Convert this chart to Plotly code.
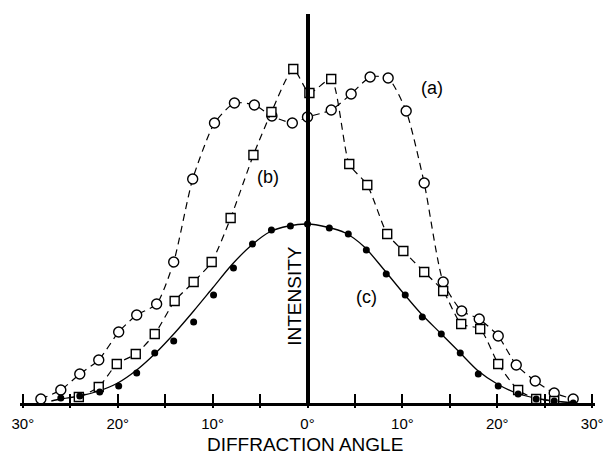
import plotly.graph_objects as go

# ---- data (intensity in arbitrary units, angle in degrees) ----
a_angle = [-28.1, -26.0, -24.0, -22.0, -19.9, -18.0, -15.9, -14.1, -12.1, -9.8, -7.7, -5.6, -3.75, -1.6, 0.0,
           2.5, 4.6, 6.6, 8.5, 10.4, 12.3, 14.3, 16.25, 18.1, 20.1, 22.0, 24.0, 26.0, 28.0]
a_int = [4, 13, 29, 43, 71, 88, 99, 141, 224, 280, 300, 298, 287, 280, 286,
         293, 309, 326, 325, 292, 220, 121, 92, 84, 67, 38, 22, 10, 4]

b_angle = [-24.1, -22.0, -20.1, -18.1, -16.1, -14.0, -12.0, -10.1, -8.1, -5.7, -3.8, -1.5, 0.2,
           2.5, 4.4, 6.3, 8.4, 10.1, 12.3, 14.3, 16.2, 18.2, 20.1, 22.2, 24.1, 26.0]
b_int = [6, 16, 39, 49, 69, 102, 121, 141, 185, 248, 291, 334, 310,
         324, 239, 218, 169, 152, 131, 112, 79, 74, 39, 13, 4, 2]

c_angle = [-26.0, -24.0, -21.9, -19.9, -18.0, -16.1, -14.1, -12.0, -9.9, -7.8, -5.8, -3.8, -1.8, 0.0,
           2.3, 4.3, 6.2, 8.3, 10.3, 12.1, 14.1, 16.1, 18.0, 20.1, 22.2, 24.1, 26.0, 28.0]
c_int = [5, 7, 11, 17, 30, 50, 62, 81, 108, 135, 159, 173, 177, 179,
         175, 169, 153, 129, 108, 86, 69, 50, 29, 17, 9, 4, 2, 0]

fit_angle = [-27, -26, -24, -22, -20, -18, -16, -14, -12, -10, -8, -6, -4, -2, 0,
             2, 4, 6, 8, 10, 12, 14, 16, 18, 20, 22, 24, 26, 28]
fit_int = [2, 4, 7, 12, 20, 33, 50, 70, 92, 115, 138, 157, 171, 177, 179,
           176, 170, 156, 134, 111, 89, 70, 51, 32, 19, 10, 5, 2, 0]

tick_vals = [-30, -25, -20, -15, -10, -5, 0, 5, 10, 15, 20, 25, 30]
tick_text = ["30°", "", "20°", "", "10°", "", "0°", "", "10°", "", "20°", "", "30°"]

labels = ["(a)", "(b)", "(c)"]
label_x = [13.1, -4.2, 6.25]
label_y = [315, 226, 106]

FONT = "Liberation Sans, Arial, Helvetica, sans-serif"
dash = "7px,5px"

fig = go.Figure()

fig.add_trace(go.Scatter(x=fit_angle, y=fit_int, mode="lines",
                         line=dict(color="black", width=1.3, shape="spline", smoothing=0.8),
                         hoverinfo="skip", showlegend=False))
fig.add_trace(go.Scatter(x=a_angle, y=a_int, mode="lines+markers",
                         line=dict(color="black", width=1.2, dash=dash, shape="spline", smoothing=0.6),
                         marker=dict(symbol="circle", size=10, color="white",
                                     line=dict(color="black", width=1.4)),
                         showlegend=False))
fig.add_trace(go.Scatter(x=b_angle, y=b_int, mode="lines+markers",
                         line=dict(color="black", width=1.2, dash=dash, shape="spline", smoothing=0.6),
                         marker=dict(symbol="square", size=9, color="white",
                                     line=dict(color="black", width=1.4)),
                         showlegend=False))
fig.add_trace(go.Scatter(x=c_angle, y=c_int, mode="markers",
                         marker=dict(symbol="circle", size=7, color="black"),
                         showlegend=False))
# invisible trace to activate secondary x axis (lower tick stubs)
fig.add_trace(go.Scatter(x=[0], y=[0], xaxis="x2", mode="markers",
                         marker=dict(opacity=0), hoverinfo="skip", showlegend=False))

XR = [-30.3, 30.3]
fig.update_layout(
    width=615, height=460,
    margin=dict(l=17, r=16, t=14, b=57),
    paper_bgcolor="white", plot_bgcolor="white",
    font=dict(family=FONT, color="black", size=15),
    xaxis=dict(range=XR, showgrid=False, zeroline=False,
               showline=True, linecolor="black", linewidth=3,
               tickmode="array", tickvals=tick_vals, ticktext=tick_text,
               ticks="inside", ticklen=9, tickwidth=2, tickcolor="black",
               tickfont=dict(family=FONT, size=15), ticklabelstandoff=5),
    xaxis2=dict(range=XR, overlaying="x", side="bottom", anchor="y",
                showgrid=False, zeroline=False, showline=False,
                tickmode="array", tickvals=tick_vals, showticklabels=False,
                ticks="outside", ticklen=4, tickwidth=2, tickcolor="black"),
    yaxis=dict(range=[0, 389], showgrid=False, zeroline=False,
               showline=True, linecolor="black", linewidth=4,
               anchor="free", position=0.5, showticklabels=False, ticks=""),
)

for t, x, y in zip(labels, label_x, label_y):
    fig.add_annotation(x=x, y=y, text=t, showarrow=False, xref="x", yref="y",
                       font=dict(family=FONT, size=18, color="black"))

fig.add_annotation(x=-1.45, y=107, text="INTENSITY", textangle=-90, showarrow=False,
                   xref="x", yref="y", font=dict(family=FONT, size=19, color="black"))
fig.add_annotation(x=0.495, y=-41 / 389, text="DIFFRACTION ANGLE", showarrow=False,
                   xref="paper", yref="paper", yanchor="middle",
                   font=dict(family=FONT, size=19, color="black"))

fig.write_html("out.html")
